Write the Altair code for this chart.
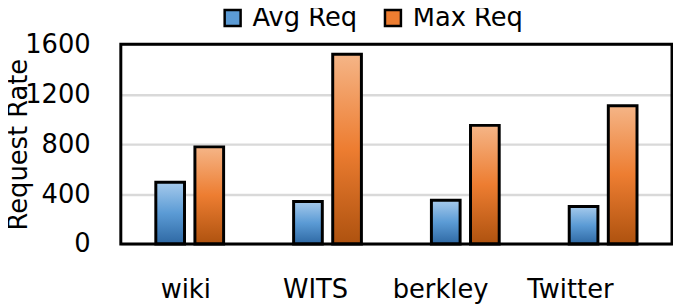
import altair as alt
import pandas as pd

categories = ["wiki", "WITS", "berkley", "Twitter"]
series = ["Avg Req", "Max Req"]
avg_req = [495, 340, 350, 300]
max_req = [778, 1520, 950, 1108]
y_ticks = [0, 400, 800, 1200, 1600]

rows = []
for c, a, m in zip(categories, avg_req, max_req):
    rows.append({"cat": c, "series": series[0], "value": a})
    rows.append({"cat": c, "series": series[1], "value": m})
df = pd.DataFrame(rows)

FONT = "DejaVu Sans"
FS = 26

# the reference's category labels sit a little left of their bar groups
label_shift = {"condition": [
    {"test": "datum.value === 'wiki'", "value": -4},
    {"test": "datum.value === 'WITS'", "value": -12},
    {"test": "datum.value === 'berkley'", "value": -25},
    {"test": "datum.value === 'Twitter'", "value": -33},
], "value": 0}

blue_grad = alt.LinearGradient(
    gradient="linear", x1=0, y1=0, x2=0, y2=1,
    stops=[alt.GradientStop(color="#A6CAEC", offset=0),
           alt.GradientStop(color="#5B9BD5", offset=0.5),
           alt.GradientStop(color="#2E68A3", offset=1)],
)
orange_grad = alt.LinearGradient(
    gradient="linear", x1=0, y1=0, x2=0, y2=1,
    stops=[alt.GradientStop(color="#F5B587", offset=0),
           alt.GradientStop(color="#ED7D31", offset=0.5),
           alt.GradientStop(color="#AE520F", offset=1)],
)

x_enc = alt.X("cat:N", sort=categories,
              scale=alt.Scale(paddingInner=0.508, paddingOuter=0.254),
              axis=alt.Axis(title=None, domain=False, ticks=False, labelAngle=0,
                            labelFontSize=FS, labelPadding=33, labelFont=FONT,
                            labelColor="black", labelOffset=label_shift))
xo_enc = alt.XOffset("series:N", sort=series,
                     scale=alt.Scale(domain=series, paddingInner=0.266, paddingOuter=0))
y_enc = alt.Y("value:Q",
              scale=alt.Scale(domain=[0, 1600], nice=False),
              axis=alt.Axis(values=y_ticks, format="d", title="Request Rate",
                            domain=False, ticks=False,
                            gridColor="#D9D9D9", gridWidth=2.5,
                            labelFontSize=FS, labelPadding=31, labelFont=FONT,
                            labelColor="black",
                            titleFontSize=FS, titleFont=FONT, titleFontWeight="normal",
                            titleColor="black", titleLimit=400,
                            titleX=-103, titleY=101, titleAlign="center",
                            titleBaseline="middle", titleAngle=270))

base = alt.Chart(df)

legend_layer = base.mark_bar().encode(
    x=x_enc, xOffset=xo_enc, y=y_enc,
    color=alt.Color("series:N", sort=series,
                    scale=alt.Scale(domain=series, range=["#5B9BD5", "#ED7D31"]),
                    legend=alt.Legend(title=None, orient="none", legendX=100, legendY=-40,
                                      direction="horizontal", symbolType="square",
                                      symbolSize=260, symbolStrokeColor="black",
                                      symbolStrokeWidth=2.5, symbolOpacity=1,
                                      labelFontSize=FS, labelFont=FONT, labelColor="black",
                                      labelOffset=7, columnPadding=22, padding=0,
                                      labelLimit=300)),
)

avg_layer = base.transform_filter(alt.datum.series == series[0]).mark_bar(
    color=blue_grad, stroke="black", strokeWidth=3
).encode(x=x_enc, xOffset=xo_enc, y=y_enc)

max_layer = base.transform_filter(alt.datum.series == series[1]).mark_bar(
    color=orange_grad, stroke="black", strokeWidth=3
).encode(x=x_enc, xOffset=xo_enc, y=y_enc)

frame = alt.Chart(pd.DataFrame({"f": [0]})).mark_rect(
    fillOpacity=0, stroke="black", strokeWidth=3
).encode(x=alt.value(0), x2=alt.value("width"), y=alt.value(0), y2=alt.value("height"))

chart = alt.layer(legend_layer, avg_layer, max_layer, frame).properties(
    width=557, height=202,
    autosize=alt.AutoSizeParams(type="none"),
    padding={"left": 114, "top": 35, "right": 1, "bottom": 60},
    background="white",
).configure_view(stroke=None)

chart.save("out.html", embed_options={"renderer": "svg", "actions": False})
